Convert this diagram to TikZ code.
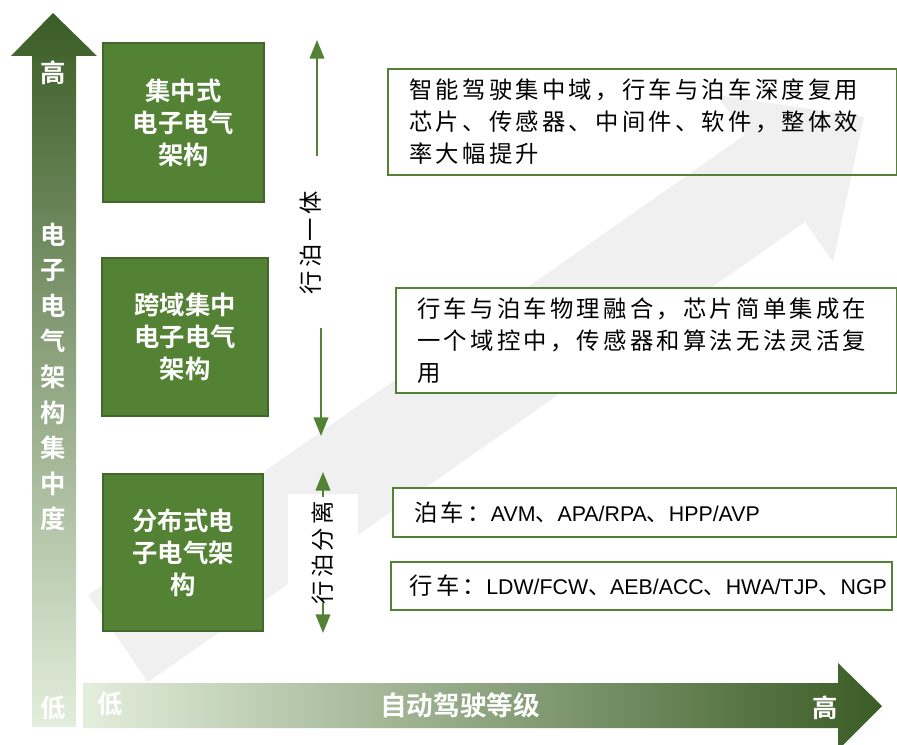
\documentclass[tikz,border=0pt]{standalone}
\usepackage{fontspec}
\setmainfont{Liberation Sans}
\newfontfamily\cjkfont{Noto Sans CJK SC}
\newfontfamily\cjkbold{Noto Sans CJK SC Bold}
\newfontfamily\cjkls[LetterSpace=14]{Noto Sans CJK SC}
\newfontfamily\latinfont{Liberation Sans}
\usetikzlibrary{arrows.meta}
\definecolor{gbox}{HTML}{548235}
\definecolor{gborder}{HTML}{41672A}
\definecolor{gdark}{HTML}{3A5C25}
\definecolor{glight}{HTML}{E3EEDC}
\definecolor{bggray}{HTML}{F0F0F0}
\newcommand\mywfont{\cjkbold\fontsize{19}{24}\selectfont}
\newcommand\mytfont{\cjkls\fontsize{17.5}{24}\selectfont}
\newcommand\mycjkplain{\cjkfont\fontsize{16.5}{24}\selectfont}
\newcommand\mylat{\latinfont\fontsize{16}{24}\selectfont}
\begin{document}
\begin{tikzpicture}[x=0.75pt,y=-0.75pt,
  gboxst/.style={draw=gborder, line width=1.2pt, fill=gbox, text=white, font=\mywfont, align=center, inner sep=0pt},
  tboxst/.style={draw=gbox, line width=1.6pt, align=left, inner xsep=16pt, inner ysep=0pt, font=\mytfont, anchor=west},
  varrow/.style={draw=gbox, line width=1.5pt, -{Triangle[length=14pt,width=11pt]}},
  vlbl/.style={font=\mytfont, rotate=90, inner sep=0pt},
  axtext/.style={text=white, font=\mywfont, inner sep=0pt}
]
\useasboundingbox (0,0) rectangle (897,745);
% background big gray arrow
\fill[bggray] (148,682) -- (805,222) -- (833,262) -- (864,117) -- (717,95) -- (745,135) -- (88,595) -- cycle;

% vertical axis arrow
\shade[top color=gdark, bottom color=glight]
  (32,727) -- (32,56) -- (11,56) -- (53,13) -- (97,56) -- (76,56) -- (76,727) -- cycle;
% horizontal axis arrow
\shade[left color=glight, right color=gdark]
  (83,683) -- (838,683) -- (838,663) -- (882,706) -- (838,750) -- (838,728) -- (83,728) -- cycle;

\node[axtext] (yhigh) at (53,73) {高};
\node[axtext, align=center, font=\cjkbold\fontsize{19}{26.7}\selectfont] (ylabel) at (53,377) {电\\子\\电\\气\\架\\构\\集\\中\\度};
\node[axtext] (ylow) at (53,708) {低};
\node[axtext] (xlow) at (110,704) {低};
\node[axtext, font=\cjkbold\fontsize{20}{24}\selectfont] (xlabel) at (460,705) {自动驾驶等级};
\node[axtext] (xhigh) at (825,708) {高};

% green boxes
\node[gboxst, minimum width=120.75pt, minimum height=119.25pt] (b1) at (183.5,122.5) {集中式\\电子电气\\架构};
\node[gboxst, minimum width=124.5pt, minimum height=118.5pt] (b2) at (185,337) {跨域集中\\电子电气\\架构};
\node[gboxst, minimum width=120pt, minimum height=117.75pt] (b3) at (183,552.5) {分布式电\\子电气架\\构};

% text boxes
\node[tboxst, text width=349.75pt, minimum height=79.5pt] (ta) at (387,122)
  {智能驾驶集中域，行车与泊车深度复用\\芯片、传感器、中间件、软件，整体效\\率大幅提升};
\node[tboxst, fill=white, text width=343.75pt, minimum height=78.75pt] (tb) at (395,340.5)
  {行车与泊车物理融合，芯片简单集成在\\一个域控中，传感器和算法无法灵活复\\用};
\node[tboxst, fill=white, text width=346pt, minimum height=36.75pt] (tc) at (392,512.5)
  {泊车：{\mylat AVM}{\mycjkplain 、}{\mylat APA/RPA}{\mycjkplain 、}{\mylat HPP/AVP}};
\node[tboxst, fill=white, text width=347.5pt, minimum height=36pt, inner xsep=14pt] (td) at (390,586)
  {行车：{\mylat LDW/FCW}{\mycjkplain 、}{\mylat AEB/ACC}{\mycjkplain 、}{\mylat HWA/TJP}{\mycjkplain 、}{\mylat NGP}};

% integration arrows
\node[vlbl] (l1) at (311,243) {行泊一体};
\coordinate (a1s) at (317,156);
\coordinate (a1e) at (317,40);
\coordinate (a2s) at (321,328);
\coordinate (a2e) at (321,436);
\draw[varrow] (a1s) -- (a1e);
\draw[varrow] (a2s) -- (a2e);

% separation arrows
\node[vlbl, fill=white, minimum width=87.75pt, minimum height=52.5pt] (l2) at (323,553) {行泊分离};
\coordinate (a3s) at (323,497);
\coordinate (a3e) at (323,472);
\coordinate (a4s) at (323,603);
\coordinate (a4e) at (323,633);
\draw[varrow] (a3s) -- (a3e);
\draw[varrow] (a4s) -- (a4e);
\end{tikzpicture}
\end{document}
